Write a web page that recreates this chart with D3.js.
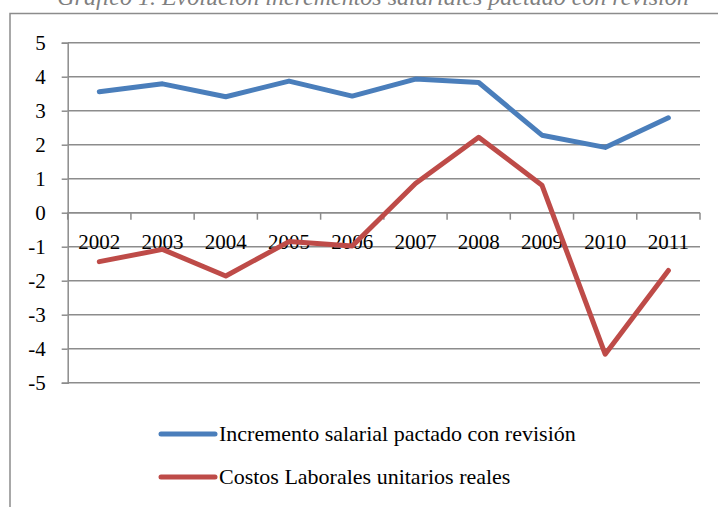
<!DOCTYPE html>
<html>
<head>
<meta charset="utf-8">
<script src="https://cdn.jsdelivr.net/npm/d3@7"></script>
<style>
  body { margin: 0; background: #fff; }
  #chart { width: 718px; height: 507px; display: block; }
  text { font-family: "Liberation Serif", "DejaVu Serif", serif; fill: #000; }
</style>
</head>
<body>
<svg id="chart" width="718" height="507"></svg>
<script>
var years = ["2002", "2003", "2004", "2005", "2006", "2007", "2008", "2009", "2010", "2011"];
var salarial = [3.56, 3.79, 3.41, 3.87, 3.43, 3.93, 3.83, 2.28, 1.92, 2.79];
var costos = [-1.44, -1.08, -1.86, -0.85, -0.98, 0.86, 2.22, 0.81, -4.16, -1.70];
var yTicks = [-5, -4, -3, -2, -1, 0, 1, 2, 3, 4, 5];
var seriesNames = ["Incremento salarial pactado con revisión", "Costos Laborales unitarios reales"];
var titleText = "Gráfico 1. Evolución incrementos salariales pactado con revisión";

var color = {
  "Incremento salarial pactado con revisión": "#4a7ebb",
  "Costos Laborales unitarios reales": "#be4b48"
};

var svg = d3.select("#chart"),
    plotLeft = 67.7, plotRight = 700, plotTop = 42.7, plotBottom = 382.7,
    gridColor = "#8c8c8c";

// title, mostly cut off at the top of the picture
svg.append("text")
    .attr("x", 373)
    .attr("y", 5)
    .attr("text-anchor", "middle")
    .style("font-style", "italic")
    .style("font-size", "24px")
    .style("fill", "#7f7f7f")
    .text(titleText);

// outer chart border
svg.append("rect")
    .attr("x", 10).attr("y", 13.5)
    .attr("width", 730).attr("height", 520)
    .attr("fill", "none")
    .attr("stroke", gridColor)
    .attr("stroke-width", 1.5);

var xScale = d3.scaleBand().domain(years).range([plotLeft, plotRight]).padding(0),
    yScale = d3.scaleLinear().domain([-5, 5]).range([plotBottom, plotTop]);

var g = svg.append("g");

// horizontal gridlines
g.append("g")
    .attr("class", "grid")
  .selectAll("line")
  .data(yTicks)
  .enter().append("line")
    .attr("x1", plotLeft).attr("x2", plotRight)
    .attr("y1", function(d) { return yScale(d); })
    .attr("y2", function(d) { return yScale(d); })
    .attr("stroke", gridColor)
    .attr("stroke-width", 1.5);

// y axis
var yAxis = d3.axisLeft(yScale).tickValues(yTicks).tickSize(6)
    .tickFormat(function(d) { return d < 0 ? "-" + Math.abs(d) : d; });

g.append("g")
    .attr("transform", "translate(" + plotLeft + ",0)")
    .call(yAxis)
    .call(function(a) {
      a.select(".domain").attr("stroke", gridColor).attr("stroke-width", 1.5);
      a.selectAll(".tick line").attr("stroke", gridColor).attr("stroke-width", 1.5);
      a.selectAll(".tick text")
        .style("font-size", "21px")
        .style("font-family", "'Liberation Serif', serif")
        .attr("x", -22)
        .attr("dy", "0.34em");
    });

// x axis crossing at zero
var x0 = yScale(0);
var xAxis = d3.axisBottom(xScale).tickSize(0).tickPadding(0);
var xg = g.append("g")
    .attr("transform", "translate(0," + x0 + ")")
    .call(xAxis);
xg.select(".domain").remove();
xg.selectAll(".tick text")
    .style("font-size", "21px")
    .style("font-family", "'Liberation Serif', serif")
    .attr("y", 36)
    .attr("dy", 0);

g.append("line")
    .attr("x1", plotLeft).attr("x2", plotRight)
    .attr("y1", x0).attr("y2", x0)
    .attr("stroke", gridColor).attr("stroke-width", 1.5);

var bounds = years.map(function(y) { return xScale(y); }).concat([plotRight]);
g.selectAll(".xtick")
  .data(bounds)
  .enter().append("line")
    .attr("class", "xtick")
    .attr("x1", function(d) { return d; })
    .attr("x2", function(d) { return d; })
    .attr("y1", x0).attr("y2", x0 + 7)
    .attr("stroke", gridColor).attr("stroke-width", 1.5);

// series lines
var line = d3.line()
    .x(function(d) { return xScale(d.year) + xScale.bandwidth() / 2; })
    .y(function(d) { return yScale(d.value); });

var series = [salarial, costos].map(function(vals, i) {
  return {
    id: seriesNames[i],
    values: years.map(function(y, j) { return {year: y, value: vals[j]}; })
  };
});

g.selectAll(".series")
  .data(series)
  .enter().append("path")
    .attr("class", "series")
    .attr("d", function(d) { return line(d.values); })
    .attr("fill", "none")
    .attr("stroke", function(d) { return color[d.id]; })
    .attr("stroke-width", 5)
    .attr("stroke-linecap", "round")
    .attr("stroke-linejoin", "round");

// legend
var legend = svg.selectAll(".legend")
  .data(seriesNames)
  .enter().append("g")
    .attr("class", "legend")
    .attr("transform", function(d, i) { return "translate(0," + (434 + i * 43) + ")"; });

legend.append("line")
    .attr("x1", 161).attr("x2", 215)
    .attr("y1", 0).attr("y2", 0)
    .attr("stroke", function(d) { return color[d]; })
    .attr("stroke-width", 5)
    .attr("stroke-linecap", "round");

legend.append("text")
    .attr("x", 219)
    .attr("y", 7)
    .style("font-size", "22px")
    .text(function(d) { return d; });
</script>
</body>
</html>
